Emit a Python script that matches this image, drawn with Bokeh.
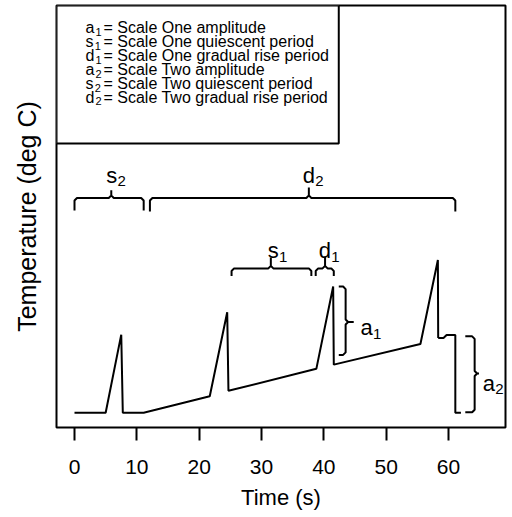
from bokeh.plotting import figure
from bokeh.models import Range1d, FixedTicker, ColumnDataSource
from bokeh.core.properties import value
from bokeh.embed import file_html
from bokeh.resources import INLINE

# ---------------- data ----------------
time_s = [0, 5.0, 7.5, 7.75, 11.1, 21.7, 24.5, 24.7, 38.8, 41.5, 41.6, 55.5, 58.3, 58.35]
temp = [3.5, 3.5, 22.0, 3.5, 3.5, 7.4, 27.3, 8.7, 13.9, 33.4, 14.9, 19.8, 39.7, 21.2]

# square bracket joining last drop to the a2 brace
bracket_x = [58.35, 59.2, 59.7, 61.1, 61.1, 62.0]
bracket_y = [21.2, 21.2, 21.9, 21.9, 3.5, 3.5]

x_ticks = [0, 10, 20, 30, 40, 50, 60]

# horizontal braces: start, end, centre, level
hb_start = [0.0, 12.1, 25.2, 38.7]
hb_end = [11.1, 61.1, 38.0, 41.6]
hb_center = [5.9, 37.6, 31.5, 40.2]
hb_level = [54.4, 54.4, 37.7, 37.7]
hb_drop = [3.0, 3.2, 1.8, 1.8]
hb_rise = [1.8, 2.5, 2.6, 2.8]

# vertical braces: hook x, spine x, tip x, top, bottom, middle
vb_hook = [42.4, 62.7]
vb_spine = [43.5, 64.2]
vb_tip = [44.8, 64.9]
vb_top = [33.4, 21.6]
vb_bottom = [17.2, 3.6]
vb_mid = [25.0, 12.8]

# brace labels
lab_main = ["s", "d", "s", "d", "a", "a"]
lab_sub = ["2", "2", "1", "1", "1", "2"]
lab_x = [5.09, 36.63, 31.0, 39.2, 45.9, 65.5]
lab_y = [59.8, 59.8, 41.9, 41.9, 23.6, 10.5]

# legend
leg_main = ["a", "s", "d", "a", "s", "d"]
leg_sub = ["1", "1", "1", "2", "2", "2"]
leg_desc = ["= Scale One  amplitude",
            "= Scale One quiescent period",
            "= Scale One gradual rise period",
            "= Scale Two amplitude",
            "= Scale Two quiescent period",
            "= Scale Two gradual rise period"]

# ---------------- layout ----------------
FONT = value("Liberation Sans")
X0, X1 = -2.888, 69.15
Y0, Y1 = 0.0, 100.0
LEG_X = 1.76
LEG_TOP = 94.67
LEG_STEP = 3.294
LEG_RIGHT = 42.4
LEG_BOTTOM = 67.3
RX, RY = 0.4, 0.6
char_w = {"a": 0.556, "s": 0.5, "d": 0.556}

p = figure(frame_width=449, frame_height=422,
           x_range=Range1d(X0, X1), y_range=Range1d(Y0, Y1),
           output_backend="svg", toolbar_location=None,
           min_border_left=56, min_border_right=7,
           min_border_top=5, min_border_bottom=90)
p.xgrid.visible = False
p.ygrid.visible = False
p.outline_line_color = "black"
p.outline_line_width = 2
p.background_fill_color = "white"
p.border_fill_color = "white"

xa = p.xaxis[0]
xa.ticker = FixedTicker(ticks=x_ticks)
xa.axis_line_color = None
xa.major_tick_in = 0
xa.major_tick_out = 13
xa.major_tick_line_width = 2
xa.minor_tick_line_color = None
xa.major_label_text_font = "Liberation Sans"
xa.major_label_text_font_size = "21px"
xa.major_label_text_color = "black"
xa.major_label_standoff = 19
xa.axis_label = "Time (s)"
xa.axis_label_text_font = "Liberation Sans"
xa.axis_label_text_font_size = "22px"
xa.axis_label_text_font_style = "normal"
xa.axis_label_text_color = "black"
xa.axis_label_standoff = 8

ya = p.yaxis[0]
ya.ticker = FixedTicker(ticks=[])
ya.axis_line_color = None
ya.major_tick_line_color = None
ya.minor_tick_line_color = None
ya.major_label_text_font_size = "0px"
ya.axis_label = "Temperature (deg C)"
ya.axis_label_text_font = "Liberation Sans"
ya.axis_label_text_font_size = "25px"
ya.axis_label_text_font_style = "normal"
ya.axis_label_text_color = "black"
ya.axis_label_standoff = 16

# curve
p.line(time_s, temp, line_color="black", line_width=2)
p.line(bracket_x, bracket_y, line_color="black", line_width=2)

# horizontal braces
hxs, hys = [], []
for x0, x1, xc, y, dr, ri in zip(hb_start, hb_end, hb_center, hb_level, hb_drop, hb_rise):
    hxs.append([x0, x0, x0 + RX, xc - RX, xc, xc, xc, xc + RX, x1 - RX, x1, x1])
    hys.append([y - dr, y - RY, y, y, y + RY, y + ri, y + RY, y, y, y - RY, y - dr])
p.multi_line(hxs, hys, line_color="black", line_width=2)

# vertical braces
vxs, vys = [], []
for xl, xs, xt, yt, yb, ym in zip(vb_hook, vb_spine, vb_tip, vb_top, vb_bottom, vb_mid):
    vxs.append([xl, xs - RX, xs, xs, xs + RX, xt, xs + RX, xs, xs, xs - RX, xl])
    vys.append([yt, yt, yt - RY, ym + RY, ym, ym, ym, ym - RY, yb + RY, yb, yb])
p.multi_line(vxs, vys, line_color="black", line_width=2)

# brace labels
src_lab = ColumnDataSource(dict(x=lab_x, y=lab_y, main=lab_main, sub=lab_sub,
                                off=[char_w[c] * 22 + 0.3 for c in lab_main]))
p.text(x="x", y="y", text="main", source=src_lab, text_font=FONT,
       text_font_size="22px", text_baseline="alphabetic", text_align="left",
       text_color="black")
p.text(x="x", y="y", text="sub", source=src_lab, text_font=FONT,
       text_font_size="15px", text_baseline="alphabetic", text_align="left",
       x_offset="off", y_offset=6, text_color="black")

# legend box
p.quad(left=[X0], right=[LEG_RIGHT], bottom=[LEG_BOTTOM], top=[Y1],
       fill_color="white", line_color="black", line_width=2)

leg_y = [LEG_TOP - i * LEG_STEP for i in range(len(leg_main))]
src_leg = ColumnDataSource(dict(x=[LEG_X] * len(leg_main), y=leg_y,
                                main=leg_main, sub=leg_sub, desc=leg_desc,
                                off=[char_w[c] * 16 + 1.2 for c in leg_main]))
p.text(x="x", y="y", text="main", source=src_leg, text_font=FONT,
       text_font_size="16px", text_baseline="middle", text_align="left",
       text_color="black")
p.text(x="x", y="y", text="sub", source=src_leg, text_font=FONT,
       text_font_size="11px", text_baseline="middle", text_align="left",
       x_offset="off", y_offset=4, text_color="black")
p.text(x="x", y="y", text="desc", source=src_leg, text_font=FONT,
       text_font_size="16px", text_baseline="middle", text_align="left",
       x_offset=18, text_color="black")

open("out.html", "w").write(file_html(p, INLINE))
